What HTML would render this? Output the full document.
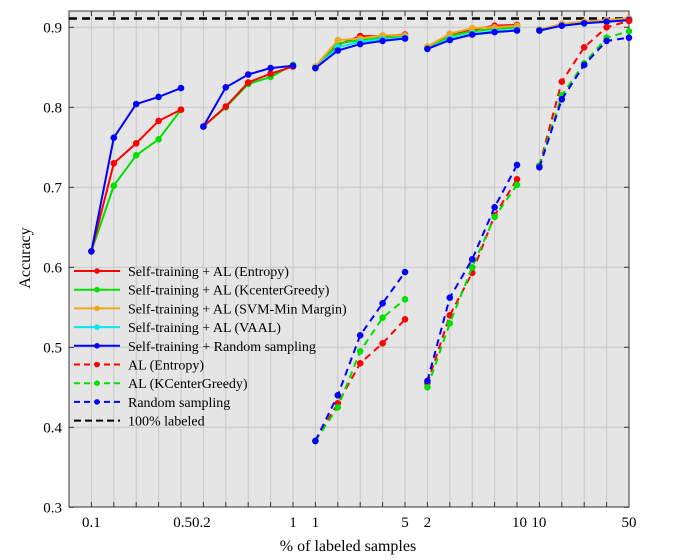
<!DOCTYPE html><html><head><meta charset="utf-8"><style>body{margin:0;background:#fff}svg{display:block;font-family:"Liberation Serif",serif}</style></head><body>
<svg id="s" width="682" height="560" xmlns="http://www.w3.org/2000/svg"></svg>
<script>
const s=document.getElementById('s');let h='';
const L=69,R=629,T=11,B=507;
const X=k=>L+22.4*k, Y=v=>27.3+(0.9-v)*800;
h+=`<rect x="${L}" y="${T}" width="${R-L}" height="${B-T}" fill="#e5e5e5"/>`;
for(let k=1;k<25;k++)h+=`<line x1="${X(k)}" y1="${T}" x2="${X(k)}" y2="${B}" stroke="#c8c8c8" stroke-width="1"/>`;
for(let v=0.4;v<0.95;v+=0.1)h+=`<line x1="${L}" y1="${Y(v)}" x2="${R}" y2="${Y(v)}" stroke="#c8c8c8"/>`;
for(let k=1;k<25;k++)h+=`<line x1="${X(k)}" y1="${B}" x2="${X(k)}" y2="${B-5}" stroke="#333"/><line x1="${X(k)}" y1="${T}" x2="${X(k)}" y2="${T+5}" stroke="#333"/>`;
[0.3,0.4,0.5,0.6,0.7,0.8,0.9].forEach(v=>{const y=Y(v);h+=`<line x1="${L}" y1="${y}" x2="${L+5}" y2="${y}" stroke="#333"/><line x1="${R}" y1="${y}" x2="${R-5}" y2="${y}" stroke="#333"/><text x="${L-7}" y="${y+5}" font-size="15" text-anchor="end">${v.toFixed(1)}</text>`});
h+=`<rect x="${L}" y="${T}" width="${R-L}" height="${B-T}" fill="none" stroke="#333" stroke-width="1"/>`;
h+=`<line x1="${L}" y1="${Y(0.911)}" x2="${R}" y2="${Y(0.911)}" stroke="#000" stroke-width="2.5" stroke-dasharray="8,5"/>`;
const C={r:'#ff0000',g:'#00e000',o:'#f0a820',c:'#00e8f0',b:'#0000ff'};
function ser(k0,vals,col,dash){const pts=vals.map((v,i)=>[X(k0+i),Y(v)]);
h+=`<polyline points="${pts.map(p=>p.join(',')).join(' ')}" fill="none" stroke="${col}" stroke-width="2" ${dash?'stroke-dasharray="7,5"':''}/>`;
pts.forEach(p=>h+=`<circle cx="${p[0]}" cy="${p[1]}" r="2.8" fill="${col}" stroke="${col}"/>`);}
ser(1,[0.62,0.702,0.74,0.76,0.797],C.g);ser(1,[0.62,0.73,0.755,0.783,0.797],C.r);ser(1,[0.62,0.762,0.804,0.813,0.824],C.b);
ser(6,[0.776,0.8,0.829,0.838,0.853],C.g);ser(6,[0.776,0.801,0.831,0.842,0.851],C.r);ser(6,[0.776,0.825,0.841,0.849,0.852],C.b);
ser(11,[0.849,0.878,0.889,0.889,0.891],C.r);ser(11,[0.851,0.880,0.884,0.887,0.888],C.g);ser(11,[0.851,0.884,0.886,0.89,0.89],C.o);ser(11,[0.849,0.875,0.882,0.885,0.887],C.c);ser(11,[0.849,0.871,0.879,0.883,0.886],C.b);
ser(11,[0.383,0.43,0.48,0.505,0.535],C.r,1);ser(11,[0.383,0.425,0.495,0.537,0.56],C.g,1);ser(11,[0.383,0.44,0.515,0.555,0.594],C.b,1);
ser(16,[0.875,0.89,0.897,0.902,0.903],C.r);ser(16,[0.875,0.889,0.895,0.898,0.9],C.g);ser(16,[0.876,0.892,0.899,0.9,0.902],C.o);ser(16,[0.873,0.886,0.892,0.895,0.897],C.c);ser(16,[0.873,0.884,0.891,0.894,0.896],C.b);
ser(16,[0.455,0.54,0.593,0.665,0.71],C.r,1);ser(16,[0.45,0.53,0.6,0.663,0.703],C.g,1);ser(16,[0.458,0.562,0.61,0.675,0.728],C.b,1);
ser(21,[0.897,0.904,0.907,0.909,0.911],C.r);ser(21,[0.897,0.903,0.906,0.908,0.91],C.g);ser(21,[0.897,0.904,0.907,0.909,0.911],C.o);ser(21,[0.896,0.902,0.905,0.907,0.909],C.c);ser(21,[0.896,0.902,0.905,0.907,0.909],C.b);
ser(21,[0.727,0.832,0.875,0.9,0.908],C.r,1);ser(21,[0.727,0.815,0.855,0.887,0.895],C.g,1);ser(21,[0.725,0.81,0.853,0.883,0.887],C.b,1);
[[1,'0.1'],[10,'1'],[11,'1'],[15,'5'],[16,'2'],[25,'50']].forEach(([k,t])=>h+=`<text x="${X(k)}" y="527" font-size="15" text-anchor="middle">${t}</text>`);
h+=`<text x="192" y="527" font-size="15" text-anchor="end">0.5</text><text x="192" y="527" font-size="15" text-anchor="start">0.2</text>`;
h+=`<text x="${X(20)+10}" y="527" font-size="15" text-anchor="end">10</text><text x="${X(21)-8}" y="527" font-size="15" text-anchor="start">10</text>`;
h+=`<text x="348" y="551" font-size="16" text-anchor="middle">% of labeled samples</text>`;
h+=`<text transform="translate(30,258) rotate(-90)" font-size="16" text-anchor="middle">Accuracy</text>`;
const lg=[['Self-training + AL (Entropy)',C.r,0],['Self-training + AL (KcenterGreedy)',C.g,0],['Self-training + AL (SVM-Min Margin)',C.o,0],['Self-training + AL (VAAL)',C.c,0],['Self-training + Random sampling',C.b,0],['AL (Entropy)',C.r,1],['AL (KCenterGreedy)',C.g,1],['Random sampling',C.b,1],['100% labeled','#000',2]];
lg.forEach((e,i)=>{const y=271+i*18.7;
h+=`<line x1="74" y1="${y}" x2="120" y2="${y}" stroke="${e[1]}" stroke-width="2" ${e[2]==1?'stroke-dasharray="6,4"':e[2]==2?'stroke-dasharray="7,4"':''}/>`;
if(e[2]<2)h+=`<circle cx="97" cy="${y}" r="2.8" fill="${e[1]}"/>`;
h+=`<text x="128" y="${y+5}" font-size="14">${e[0]}</text>`});
s.innerHTML=h;
</script></body></html>
